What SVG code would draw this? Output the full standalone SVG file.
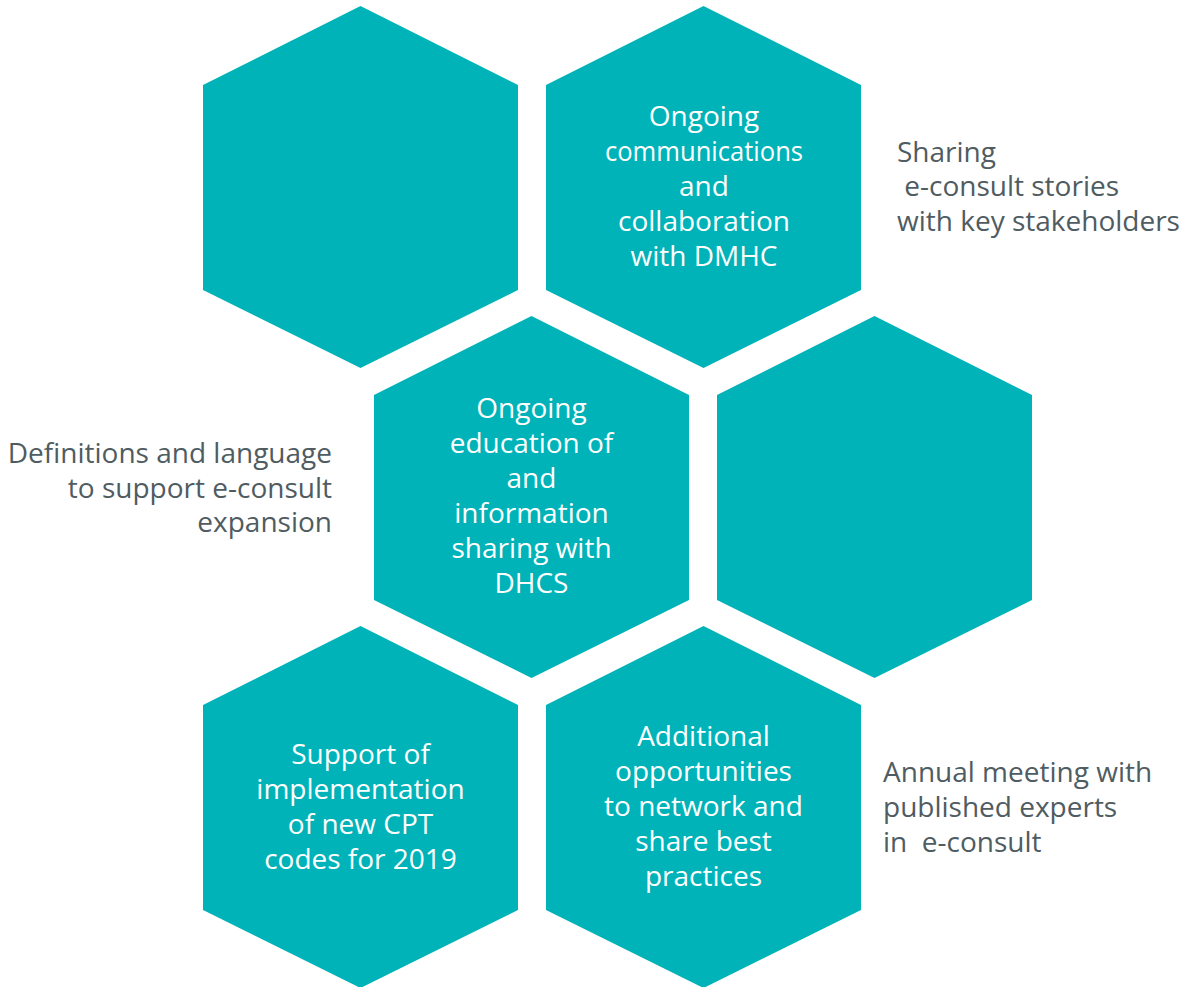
<svg xmlns="http://www.w3.org/2000/svg" xmlns:xlink="http://www.w3.org/1999/xlink" width="1184" height="987" viewBox="0 0 1184 987">
  <style>
    .hex { fill: #00B3B8; }
    .in { font-family: "Open Sans", "Liberation Sans", sans-serif; font-size: 28px; fill: #FFFFFF; text-anchor: middle; }
    .side { font-family: "Open Sans", "Liberation Sans", sans-serif; font-size: 28px; fill: #4F5C61; }
  </style>
  <defs>
    <!-- pointy-top hexagon, 315 wide by 362 tall, origin at bounding box top-left -->
    <polygon id="hexShape" points="157.5,0 315,79 315,284 157.5,362 0,284 0,79"/>
  </defs>
  <rect width="1184" height="987" fill="#FFFFFF"/>

  <g id="hex-top-left">
    <use xlink:href="#hexShape" href="#hexShape" class="hex" x="203" y="6"/>
  </g>

  <g id="hex-dmhc">
    <use xlink:href="#hexShape" href="#hexShape" class="hex" x="546" y="6"/>
    <text class="in"><tspan x="704" y="126">Ongoing</tspan><tspan x="704" y="161" textLength="198" lengthAdjust="spacingAndGlyphs">communications</tspan><tspan x="704" y="196">and</tspan><tspan x="704" y="231">collaboration</tspan><tspan x="704" y="266">with DMHC</tspan></text>
  </g>

  <g id="hex-dhcs">
    <use xlink:href="#hexShape" href="#hexShape" class="hex" x="374" y="316"/>
    <text class="in"><tspan x="531.5" y="418">Ongoing</tspan><tspan x="531.5" y="453">education of</tspan><tspan x="531.5" y="488">and</tspan><tspan x="531.5" y="523">information</tspan><tspan x="531.5" y="558">sharing with</tspan><tspan x="531.5" y="593">DHCS</tspan></text>
  </g>

  <g id="hex-mid-right">
    <use xlink:href="#hexShape" href="#hexShape" class="hex" x="717" y="316"/>
  </g>

  <g id="hex-cpt">
    <use xlink:href="#hexShape" href="#hexShape" class="hex" x="203" y="626"/>
    <text class="in"><tspan x="360.5" y="764">Support of</tspan><tspan x="360.5" y="799">implementation</tspan><tspan x="360.5" y="834">of new CPT</tspan><tspan x="360.5" y="869">codes for 2019</tspan></text>
  </g>

  <g id="hex-network">
    <use xlink:href="#hexShape" href="#hexShape" class="hex" x="546" y="626"/>
    <text class="in"><tspan x="703.5" y="746">Additional</tspan><tspan x="703.5" y="781">opportunities</tspan><tspan x="703.5" y="816">to network and</tspan><tspan x="703.5" y="851">share best</tspan><tspan x="703.5" y="886">practices</tspan></text>
  </g>

  <g id="label-stories">
    <text class="side" xml:space="preserve"><tspan x="897" y="162">Sharing</tspan><tspan x="897" y="196"> e-consult stories</tspan><tspan x="897" y="231">with key stakeholders</tspan></text>
  </g>

  <g id="label-definitions">
    <text class="side" text-anchor="end"><tspan x="332" y="463">Definitions and language</tspan><tspan x="332" y="498">to support e-consult</tspan><tspan x="332" y="532">expansion</tspan></text>
  </g>

  <g id="label-meeting">
    <text class="side" xml:space="preserve"><tspan x="883" y="782">Annual meeting with</tspan><tspan x="883" y="817">published experts</tspan><tspan x="883" y="852">in  e-consult</tspan></text>
  </g>
</svg>
